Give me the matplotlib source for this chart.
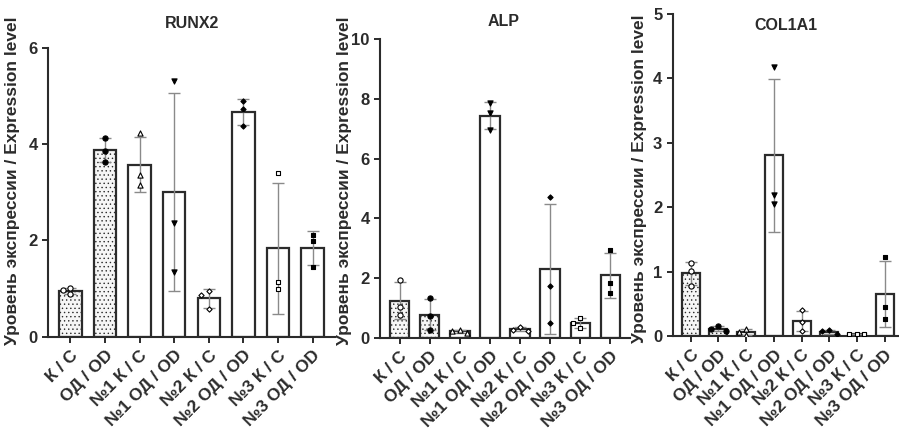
import numpy as np
import matplotlib.pyplot as plt

plt.rcParams['font.family'] = ['Liberation Sans', 'DejaVu Sans']
plt.rcParams['font.weight'] = 'bold'
plt.rcParams['hatch.color'] = '#c8c8c8'
plt.rcParams['hatch.linewidth'] = 0.5

groups = ['К / С', 'ОД / OD', '№1 К / С', '№1 ОД / OD',
          '№2 К / С', '№2 ОД / OD', '№3 К / С', '№3 ОД / OD']

# three replicates per group
runx2 = [[1.01, 0.97, 0.88], [4.13, 3.86, 3.63], [4.22, 3.35, 3.15], [5.31, 2.37, 1.35],
         [0.95, 0.87, 0.57], [4.89, 4.72, 4.37], [3.40, 1.13, 0.98], [2.11, 1.99, 1.45]]
alp = [[1.93, 1.02, 0.76], [1.33, 0.72, 0.27], [0.27, 0.22, 0.15], [7.85, 7.52, 6.95],
       [0.35, 0.27, 0.22], [4.70, 1.74, 0.48], [0.65, 0.48, 0.31], [2.94, 1.84, 1.49]]
col1a1 = [[1.13, 1.01, 0.78], [0.15, 0.11, 0.08], [0.11, 0.06, 0.02], [4.18, 2.19, 2.05],
          [0.40, 0.22, 0.08], [0.09, 0.08, 0.03], [0.035, 0.03, 0.025], [1.23, 0.45, 0.27]]

markers = ['o', 'o', '^', 'v', 'D', 'D', 's', 's']
marker_size = [14, 14, 14, 14, 7, 7, 12, 12]
filled = [False, True, False, True, False, True, False, True]
stippled = [True, True, False, False, False, False, False, False]

DARK = '#2b2b2b'
GREY = '#8a8a8a'
FIG_W, FIG_H = 899, 432


def swarm_offsets(vals, ax, ymax, min_px=5.5):
    # spread replicate points sideways when they would overlap
    bb = ax.get_window_extent()
    px_x = bb.width / 8.3
    px_y = bb.height / ymax
    placed = []
    offs = {}
    order = np.argsort(vals)[::-1]
    for i in order:
        y = vals[i] * px_y
        for k in [0, -1, 1, -2, 2]:
            x = k * 7.5
            if all((x - px) ** 2 + (y - py) ** 2 >= min_px ** 2 for px, py in placed):
                break
        placed.append((x, y))
        offs[i] = x / px_x
    return [offs[i] for i in range(len(vals))]


def draw_panel(ax, data, title, ymax, yticks, title_px, ylabel_px):
    x = np.arange(len(groups))
    means = [np.mean(v) for v in data]
    sds = [np.std(v, ddof=1) for v in data]
    for i in range(len(groups)):
        ax.bar(x[i], means[i], width=0.65,
               color='#f6f6f6' if stippled[i] else 'white',
               hatch='....' if stippled[i] else None,
               edgecolor=DARK, linewidth=1.6, zorder=2)
    ax.errorbar(x, means, yerr=sds, fmt='none', ecolor=GREY, elinewidth=1.0,
                capsize=4, capthick=1.0, zorder=3)
    ax.set_xlim(-0.65, 7.65)
    ax.set_ylim(0, ymax)
    for i, vals in enumerate(data):
        offs = swarm_offsets(vals, ax, ymax)
        ax.scatter(x[i] + np.array(offs), vals, marker=markers[i], s=marker_size[i],
                   facecolors='black' if filled[i] else 'white',
                   edgecolors='black', linewidths=0.8, zorder=4)
    ax.set_yticks(yticks)
    ax.set_xticks(x)
    ax.set_xticklabels(groups, rotation=45, ha='right', rotation_mode='anchor',
                       fontsize=12.5, fontweight='bold')
    ax.tick_params(axis='both', direction='out', length=4, width=1.4,
                   colors=DARK, labelsize=12)
    ax.tick_params(axis='x', pad=4, labelsize=12.5)
    for lab in ax.get_yticklabels():
        lab.set_fontweight('bold')
    for side in ['top', 'right']:
        ax.spines[side].set_visible(False)
    for side in ['left', 'bottom']:
        ax.spines[side].set_linewidth(1.5)
        ax.spines[side].set_color(DARK)
    ax.set_ylabel('Уровень экспрессии / Expression level', fontsize=12.5,
                  fontweight='bold', color=DARK)
    # place the y label at a fixed figure position
    inv = ax.transAxes.inverted()
    lx, ly = inv.transform((ylabel_px[0], FIG_H - ylabel_px[1]))
    ax.yaxis.set_label_coords(lx, ly)
    ax.figure.text(title_px[0] / FIG_W, 1 - title_px[1] / FIG_H, title,
                   ha='center', va='center', fontsize=11.5, fontweight='bold',
                   color=DARK)


fig = plt.figure(figsize=(8.99, 4.32), dpi=100)
ax1 = fig.add_axes([48 / 899, 1 - 336.7 / 432, 287 / 899, 289 / 432])
ax2 = fig.add_axes([380 / 899, 1 - 337.7 / 432, 250 / 899, 298.4 / 432])
ax3 = fig.add_axes([672.7 / 899, 1 - 336 / 432, 230 / 899, 322 / 432])

draw_panel(ax1, runx2, 'RUNX2', 6, [0, 2, 4, 6], (192, 23), (20, 181))
draw_panel(ax2, alp, 'ALP', 10, [0, 2, 4, 6, 8, 10], (504, 22), (352, 181))
draw_panel(ax3, col1a1, 'COL1A1', 5, [0, 1, 2, 3, 4, 5], (786, 25), (647, 179))

fig.savefig('out.png', dpi=100)
